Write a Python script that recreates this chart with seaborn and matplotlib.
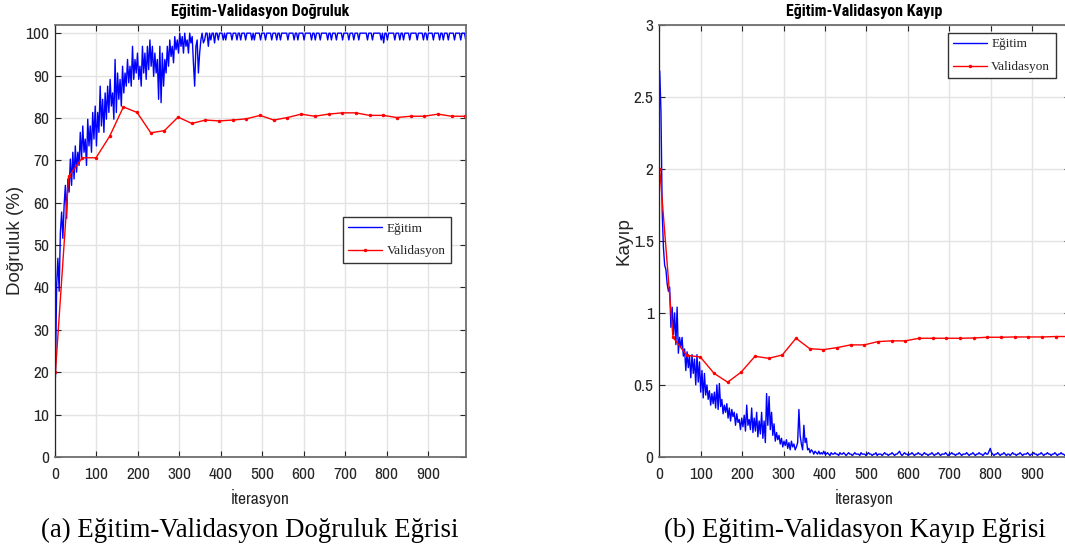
import matplotlib
matplotlib.use("Agg")
import matplotlib.pyplot as plt
import seaborn as sns
import pandas as pd

# ---------------- data ----------------
train_iter = list(range(1, 359, 3)) + list(range(361, 992, 3))
val_iter = [1] + list(range(33, 991, 33))

train_acc = [
    18.8, 40.6, 46.9, 39.1, 53.1, 57.8, 51.6, 59.4, 64.1, 56.3,
    65.6, 62.5, 70.3, 64.1, 71.9, 65.6, 73.4, 67.2, 71.9, 68.8,
    76.6, 70.3, 78.1, 71.9, 75.0, 68.8, 79.7, 73.4, 78.1, 71.9,
    81.3, 75.0, 82.8, 73.4, 81.3, 76.6, 87.5, 78.1, 84.4, 76.6,
    85.9, 79.7, 87.5, 81.3, 89.1, 82.8, 85.9, 79.7, 93.8, 81.3,
    90.6, 84.4, 89.1, 82.8, 92.2, 85.9, 90.6, 87.5, 93.8, 88.3,
    92.2, 87.5, 96.9, 89.1, 93.8, 90.6, 95.3, 89.1, 92.2, 87.5,
    96.9, 90.6, 95.3, 89.1, 96.9, 91.4, 98.4, 92.2, 96.9, 89.8,
    95.3, 90.6, 93.8, 84.4, 96.9, 83.6, 95.3, 87.5, 93.8, 90.6,
    96.9, 92.2, 98.4, 94.5, 96.9, 93.0, 99.2, 96.1, 98.4, 95.3,
    100, 96.9, 99.2, 95.3, 100, 96.9, 98.4, 95.3, 100, 97.7,
    99.2, 93.0, 87.5, 96.9, 98.4, 90.6, 95.3, 98.4, 100, 97.7,
    # iterations 361..991 (step 3)
    98.4, 100, 100, 96.9, 100, 98.4, 100, 100, 97.7, 100,
    100, 98.4, 100, 100, 100, 98.4, 100, 98.4, 100, 100,
    100, 100, 98.4, 100, 100, 100, 98.4, 100, 100, 98.4,
    100, 100, 100, 98.4, 100, 100, 100, 100, 98.4, 100,
    98.4, 100, 100, 100, 100, 98.4, 100, 100, 100, 98.4,
    100, 100, 100, 100, 98.4, 100, 100, 100, 98.4, 100,
    100, 98.4, 100, 100, 100, 100, 100, 98.4, 100, 100,
    100, 100, 98.4, 100, 100, 98.4, 100, 100, 100, 100,
    98.4, 100, 100, 100, 100, 100, 98.4, 100, 100, 98.4,
    100, 100, 100, 98.4, 100, 100, 100, 100, 100, 98.4,
    100, 100, 98.4, 100, 100, 100, 98.4, 100, 100, 100,
    100, 98.4, 100, 100, 100, 100, 98.4, 100, 100, 100,
    98.4, 100, 100, 100, 98.4, 100, 100, 100, 100, 100,
    100, 98.4, 100, 100, 100, 98.4, 100, 100, 100, 100,
    100, 100, 98.4, 100, 97.7, 100, 100, 98.4, 100, 100,
    100, 100, 100, 98.4, 100, 100, 100, 98.4, 100, 100,
    98.4, 100, 100, 100, 100, 98.4, 100, 100, 100, 100,
    100, 98.4, 100, 100, 100, 100, 98.4, 100, 100, 98.4,
    100, 100, 100, 100, 98.4, 100, 100, 100, 100, 98.4,
    100, 100, 98.4, 100, 100, 100, 98.4, 100, 100, 100,
    100, 98.4, 100, 100, 100, 100, 98.4, 100, 100, 100,
    98.4,
]

train_loss = [
    2.68, 2.40, 1.70, 1.45, 1.33, 1.30, 1.20, 1.15, 1.18, 0.90,
    1.04, 0.85, 1.00, 0.78, 1.04, 0.72, 0.83, 0.76, 0.83, 0.70,
    0.75, 0.60, 0.73, 0.62, 0.70, 0.55, 0.71, 0.58, 0.68, 0.50,
    0.71, 0.52, 0.66, 0.45, 0.60, 0.41, 0.58, 0.43, 0.50, 0.40,
    0.46, 0.36, 0.44, 0.37, 0.45, 0.34, 0.50, 0.33, 0.51, 0.35,
    0.40, 0.30, 0.36, 0.31, 0.37, 0.27, 0.34, 0.25, 0.33, 0.28,
    0.31, 0.22, 0.30, 0.24, 0.26, 0.19, 0.27, 0.21, 0.29, 0.18,
    0.36, 0.22, 0.26, 0.19, 0.34, 0.17, 0.27, 0.18, 0.31, 0.14,
    0.25, 0.16, 0.31, 0.13, 0.25, 0.10, 0.44, 0.22, 0.42, 0.19,
    0.31, 0.15, 0.23, 0.11, 0.17, 0.12, 0.15, 0.09, 0.13, 0.07,
    0.11, 0.08, 0.12, 0.06, 0.10, 0.05, 0.11, 0.07, 0.09, 0.05,
    0.07, 0.10, 0.33, 0.15, 0.09, 0.05, 0.22, 0.10, 0.13, 0.05,
    # iterations 361..991 (step 3)
    0.06, 0.03, 0.05, 0.04, 0.02, 0.04, 0.03, 0.02, 0.04, 0.02,
    0.03, 0.02, 0.04, 0.02, 0.02, 0.03, 0.02, 0.01, 0.03, 0.02,
    0.02, 0.03, 0.02, 0.02, 0.01, 0.03, 0.02, 0.02, 0.03, 0.02,
    0.01, 0.02, 0.03, 0.02, 0.02, 0.01, 0.02, 0.03, 0.02, 0.02,
    0.02, 0.01, 0.03, 0.02, 0.02, 0.02, 0.01, 0.02, 0.03, 0.02,
    0.02, 0.01, 0.02, 0.02, 0.03, 0.01, 0.02, 0.02, 0.02, 0.01,
    0.02, 0.03, 0.02, 0.02, 0.01, 0.02, 0.02, 0.03, 0.02, 0.01,
    0.02, 0.02, 0.03, 0.04, 0.02, 0.01, 0.02, 0.03, 0.02, 0.02,
    0.01, 0.02, 0.02, 0.03, 0.02, 0.01, 0.02, 0.02, 0.03, 0.02,
    0.02, 0.01, 0.02, 0.03, 0.02, 0.02, 0.01, 0.02, 0.02, 0.03,
    0.02, 0.01, 0.02, 0.02, 0.03, 0.02, 0.01, 0.02, 0.02, 0.02,
    0.03, 0.02, 0.01, 0.02, 0.02, 0.03, 0.02, 0.02, 0.01, 0.02,
    0.02, 0.03, 0.02, 0.01, 0.02, 0.02, 0.02, 0.03, 0.02, 0.01,
    0.02, 0.02, 0.03, 0.02, 0.01, 0.02, 0.02, 0.03, 0.02, 0.02,
    0.01, 0.02, 0.03, 0.02, 0.02, 0.04, 0.06, 0.03, 0.02, 0.01,
    0.02, 0.02, 0.03, 0.02, 0.01, 0.02, 0.02, 0.03, 0.02, 0.01,
    0.02, 0.02, 0.01, 0.02, 0.03, 0.02, 0.02, 0.01, 0.02, 0.02,
    0.03, 0.02, 0.01, 0.02, 0.02, 0.02, 0.03, 0.02, 0.01, 0.02,
    0.02, 0.03, 0.02, 0.02, 0.01, 0.02, 0.02, 0.03, 0.02, 0.01,
    0.02, 0.02, 0.03, 0.02, 0.02, 0.01, 0.02, 0.02, 0.03, 0.02,
    0.01, 0.02, 0.02, 0.03, 0.02, 0.02, 0.01, 0.02, 0.02, 0.03,
    0.02,
]

val_acc = [20.0, 66.2, 70.6, 70.6, 75.7, 82.6, 81.3, 76.5, 77.0, 80.2,
           78.7, 79.5, 79.3, 79.5, 79.8, 80.6, 79.5, 80.1, 80.9, 80.4,
           80.9, 81.2, 81.2, 80.6, 80.6, 80.1, 80.4, 80.4, 80.9, 80.4, 80.4]
val_loss = [2.00, 0.831, 0.706, 0.694, 0.581, 0.519, 0.590, 0.699, 0.685, 0.708,
            0.824, 0.752, 0.745, 0.759, 0.778, 0.778, 0.801, 0.806, 0.806, 0.824,
            0.824, 0.824, 0.824, 0.826, 0.831, 0.831, 0.833, 0.833, 0.833, 0.836, 0.836]

titles = ["Eğitim-Validasyon Doğruluk", "Eğitim-Validasyon Kayıp"]
ylabels = ["Doğruluk (%)", "Kayıp"]
xlabel = "İterasyon"
captions = ["(a) Eğitim-Validasyon Doğruluk Eğrisi", "(b) Eğitim-Validasyon Kayıp Eğrisi"]
legend_labels = ["Eğitim", "Validasyon"]
acc_yticks = list(range(0, 101, 10))
loss_yticks = [0, 0.5, 1, 1.5, 2, 2.5, 3]
xticks = list(range(0, 901, 100))

if len(train_acc) != len(train_iter) or len(train_loss) != len(train_iter):
    raise ValueError(f"{len(train_iter)} {len(train_acc)} {len(train_loss)}")

train_df = pd.DataFrame({"it": train_iter, "acc": train_acc, "loss": train_loss})
val_df = pd.DataFrame({"it": val_iter, "acc": val_acc, "loss": val_loss})

# ---------------- style ----------------
sns.set_theme(style="white")
narrow = ["Archivo Narrow", "Liberation Sans", "DejaVu Sans"]
narrow_bold = ["Roboto Condensed", "Asap Condensed", "Archivo Narrow", "Liberation Sans", "DejaVu Sans"]
serif = ["Liberation Serif", "DejaVu Serif"]
plt.rcParams["font.family"] = narrow
axcol = "#262626"

fig = plt.figure(figsize=(10.65, 5.52), dpi=100)
W, H = 1065, 552
ax1 = fig.add_axes([55 / W, (H - 457) / H, 410.7 / W, 432.3 / H])
ax2 = fig.add_axes([659.3 / W, (H - 457) / H, 410.5 / W, 432.3 / H])

specs = [
    (ax1, "acc", (0, 102), acc_yticks, (0.701, 0.555), 24),
    (ax2, "loss", (0, 3), loss_yticks, (0.7026, 0.981), 632),
]
for i, (ax, col, ylim, yt, lpos, ylab_x) in enumerate(specs):
    sns.lineplot(data=train_df, x="it", y=col, ax=ax, color="#0000ff", lw=1.0,
                 estimator=None, sort=False, label=legend_labels[0])
    sns.lineplot(data=val_df, x="it", y=col, ax=ax, color="#ff0000", lw=1.0,
                 marker=".", markersize=5, markeredgewidth=0, estimator=None,
                 sort=False, label=legend_labels[1])
    ax.set_xlim(0, 991)
    ax.set_ylim(*ylim)
    ax.set_xticks(xticks)
    ax.set_yticks(yt)
    ax.set_yticklabels([f"{v:g}" for v in yt])
    ax.grid(True, color="#e3e3e3", lw=1.0)
    ax.set_axisbelow(True)
    for name, s in ax.spines.items():
        if name == "left":
            s.set_color(axcol)
            s.set_linewidth(0.9)
        else:
            s.set_color("#6e6e6e")
            s.set_linewidth(1.3)
    ax.tick_params(direction="in", length=4, width=0.8, colors=axcol,
                   labelsize=12.5, top=True, right=True, bottom=True, left=True,
                   labelcolor=axcol)
    ax.tick_params(axis="x", pad=7)
    ax.tick_params(axis="y", pad=4)
    ax.set_title(titles[i], fontsize=11.5, fontweight="bold", color="black", pad=6,
                 family=narrow_bold)
    ax.set_xlabel(xlabel, fontsize=12.5, color=axcol, family=narrow)
    ax.xaxis.set_label_coords(0.5, -(489 - 457) / 432.3)
    ax.set_ylabel(ylabels[i], fontsize=13.5, color=axcol,
                  family=["Liberation Sans", "DejaVu Sans"])
    ax.yaxis.set_label_coords(-(ax.get_position().x0 * W - ylab_x) / 410.6, 0.5)
    leg = ax.legend(loc="upper left", bbox_to_anchor=lpos, borderaxespad=0,
                    frameon=True, fancybox=False, framealpha=1, edgecolor="#333333",
                    prop={"family": serif, "size": 9.5},
                    handlelength=2.6, handletextpad=0.3, borderpad=0.4,
                    labelspacing=0.8)
    leg.get_frame().set_linewidth(1.0)

fig.text(250 / W, 1 - 530 / H, captions[0], ha="center", va="center", fontsize=19.3,
         family=serif, color="black")
fig.text(855 / W, 1 - 530 / H, captions[1], ha="center", va="center", fontsize=19.3,
         family=serif, color="black")

fig.savefig("out.png", dpi=100, facecolor="white")
